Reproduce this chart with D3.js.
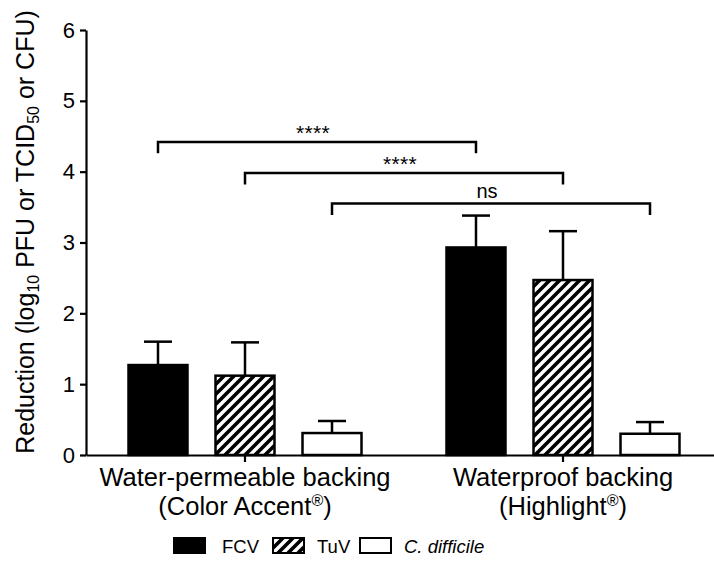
<!DOCTYPE html>
<html>
<head>
<meta charset="utf-8">
<script src="https://cdn.jsdelivr.net/npm/d3@7"></script>
<style>
  html, body { margin: 0; padding: 0; background: #fff; }
  svg { display: block; font-family: "Liberation Sans", Arial, sans-serif; }
</style>
</head>
<body>
<svg id="chart" width="714" height="563"></svg>
<script>
// Backing types (x groups), each label on two lines
const categories = ["Water-permeable backing", "Waterproof backing"];
const categoryProducts = ["(Color Accent®)", "(Highlight®)"];

// Organisms (bars within each group)
const seriesNames = ["FCV", "TuV", "C. difficile"];

// Mean log10 reduction and upper error per organism, one value per backing
const fcvMean = [1.27, 2.93];
const fcvErr  = [0.33, 0.45];
const tuvMean = [1.12, 2.47];
const tuvErr  = [0.47, 0.69];
const cdMean  = [0.31, 0.30];
const cdErr   = [0.17, 0.165];

const yTicks = [0, 1, 2, 3, 4, 5, 6];

// Significance comparisons between the two backings for the same organism
const compSeries = ["FCV", "TuV", "C. difficile"];
const compLevel  = [4.42, 3.98, 3.55];
const compLabel  = ["****", "****", "ns"];

const meansBySeries = { "FCV": fcvMean, "TuV": tuvMean, "C. difficile": cdMean };
const errBySeries   = { "FCV": fcvErr,  "TuV": tuvErr,  "C. difficile": cdErr };

const svg = d3.select("#chart");
const plotLeft = 86, plotRight = 722, plotTop = 30, plotBottom = 455;

const x0 = d3.scaleBand().domain(categories).range([plotLeft, plotRight]).padding(0);
const x1 = d3.scaleBand().domain(seriesNames).range([-116.5, 116.5])
  .paddingInner(0.322).paddingOuter(0);
const y = d3.scaleLinear().domain([0, 6]).range([plotBottom, plotTop]);

const barX = (s, c) => x0(c) + x0.bandwidth() / 2 + x1(s);
const barCx = (s, c) => barX(s, c) + x1.bandwidth() / 2;

// Hatch pattern for TuV
const defs = svg.append("defs");
const pat = defs.append("pattern")
  .attr("id", "hatch").attr("patternUnits", "userSpaceOnUse")
  .attr("width", 10).attr("height", 10);
pat.append("rect").attr("width", 10).attr("height", 10).attr("fill", "#fff");
pat.append("path")
  .attr("d", "M-2,2 l4,-4 M0,10 l10,-10 M8,12 l4,-4")
  .attr("stroke", "#000").attr("stroke-width", 3.6);

const fills = { "FCV": "#000", "TuV": "url(#hatch)", "C. difficile": "#fff" };

// Flat records for bars
const records = [];
seriesNames.forEach(s => categories.forEach((c, i) => {
  records.push({ s, c, v: meansBySeries[s][i], e: errBySeries[s][i] });
}));

// Error bars (upper only), drawn beneath the bars
const eg = svg.append("g").attr("stroke", "#000").attr("stroke-width", 2.5).attr("fill", "none");
records.forEach(d => {
  const cx = barCx(d.s, d.c);
  eg.append("line").attr("x1", cx).attr("x2", cx).attr("y1", y(d.v)).attr("y2", y(d.v + d.e));
  eg.append("line").attr("x1", cx - 14).attr("x2", cx + 14)
    .attr("y1", y(d.v + d.e)).attr("y2", y(d.v + d.e));
});

// Bars
svg.append("g").selectAll("rect").data(records).join("rect")
  .attr("x", d => barX(d.s, d.c))
  .attr("y", d => y(d.v))
  .attr("width", x1.bandwidth())
  .attr("height", d => y(0) - y(d.v))
  .attr("fill", d => fills[d.s])
  .attr("stroke", "#000").attr("stroke-width", 2.5);

// Y axis
const yAxis = svg.append("g").attr("transform", `translate(${plotLeft},0)`)
  .call(d3.axisLeft(y).tickValues(yTicks).tickFormat(d3.format("d"))
    .tickSize(6).tickSizeOuter(0).tickPadding(5));
yAxis.select(".domain").attr("stroke-width", 2.2);
yAxis.selectAll(".tick line").attr("stroke-width", 2.2);
yAxis.selectAll(".tick text").attr("font-size", 22).attr("fill", "#000")
  .attr("font-family", '"Liberation Sans", Arial, sans-serif');

// X axis
const xAxis = svg.append("g").attr("transform", `translate(0,${plotBottom})`)
  .call(d3.axisBottom(x0).tickSize(7).tickSizeOuter(0).tickFormat(""));
xAxis.select(".domain").attr("stroke-width", 2.2);
xAxis.selectAll(".tick line").attr("stroke-width", 2.2);

// Category labels (two lines, registered mark raised)
const catG = svg.append("g").attr("font-size", 25.5).attr("text-anchor", "middle").attr("fill", "#000");
categories.forEach((c, i) => {
  const cx = x0(c) + x0.bandwidth() / 2;
  catG.append("text").attr("x", cx).attr("y", 486).text(c);
  const t = catG.append("text").attr("x", cx).attr("y", 515);
  const parts = categoryProducts[i].split("®");
  t.append("tspan").text(parts[0]);
  t.append("tspan").attr("font-size", 16).attr("dy", -9).text("®");
  t.append("tspan").attr("dy", 9).text(parts[1]);
});

// Y axis title with subscripts
const title = svg.append("text")
  .attr("transform", `translate(34,232) rotate(-90)`)
  .attr("text-anchor", "middle").attr("font-size", 25).attr("fill", "#000");
title.append("tspan").text("Reduction (log");
title.append("tspan").attr("font-size", 16).attr("dy", 5).text("10");
title.append("tspan").attr("dy", -5).text(" PFU or TCID");
title.append("tspan").attr("font-size", 16).attr("dy", 5).text("50");
title.append("tspan").attr("dy", -5).text(" or CFU)");

// Significance brackets
const bg = svg.append("g");
compSeries.forEach((s, i) => {
  const xa = barCx(s, categories[0]), xb = barCx(s, categories[1]);
  const yl = y(compLevel[i]), yd = y(compLevel[i] - 0.16);
  bg.append("path")
    .attr("d", `M${xa},${yd} V${yl} H${xb} V${yd}`)
    .attr("fill", "none").attr("stroke", "#000").attr("stroke-width", 2.5);
  const isStars = compLabel[i] !== "ns";
  bg.append("text")
    .attr("x", (xa + xb) / 2 - 4).attr("y", yl - (isStars ? 2 : 6))
    .attr("text-anchor", "middle")
    .attr("font-size", isStars ? 21 : 20)
    .attr("letter-spacing", isStars ? 0.3 : 0)
    .attr("fill", "#000")
    .text(compLabel[i]);
});

// Legend
const legendX = [174, 273, 360];
const lg = svg.append("g").attr("font-size", 18.5).attr("fill", "#000");
seriesNames.forEach((s, i) => {
  const g = lg.append("g").attr("transform", `translate(${legendX[i]},538)`);
  g.append("rect").attr("width", 31).attr("height", 15)
    .attr("fill", fills[s]).attr("stroke", "#000").attr("stroke-width", 2);
  g.append("text").attr("x", s === "FCV" ? 48 : 44).attr("y", 15)
    .attr("font-style", s === "C. difficile" ? "italic" : "normal")
    .text(s);
});
</script>
</body>
</html>
